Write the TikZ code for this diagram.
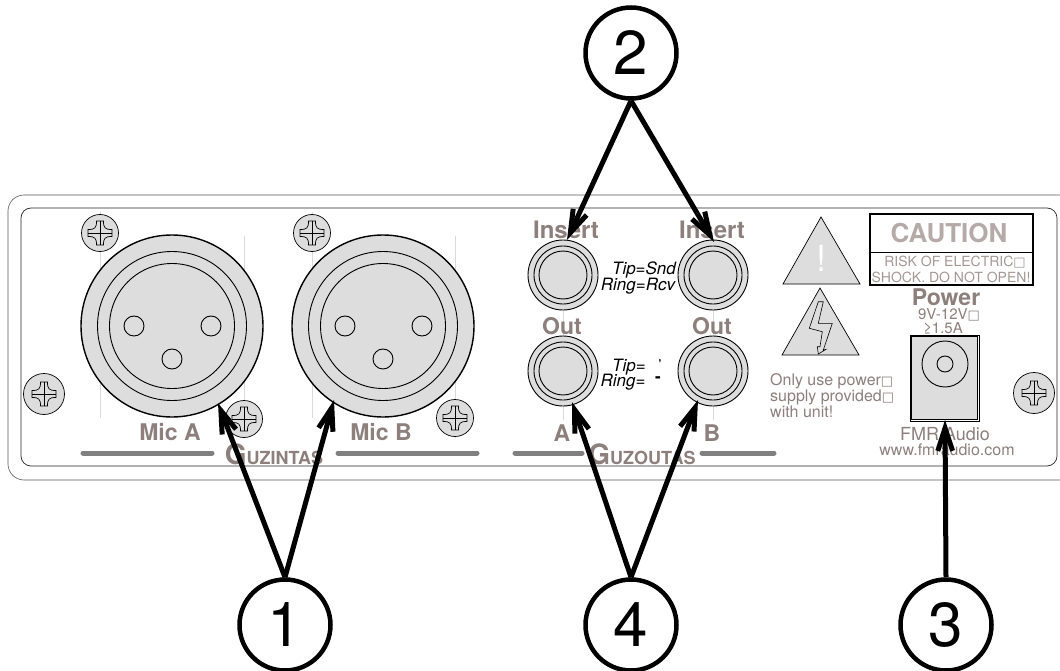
\documentclass[tikz,border=0pt]{standalone}
\usepackage{fontspec}
\setmainfont{TeX Gyre Heros}
\newfontfamily\boxfont{DejaVu Sans}
\usetikzlibrary{arrows.meta}
\definecolor{panel}{HTML}{DDDDDD}
\definecolor{lettering}{HTML}{8C7F7C}
\definecolor{paler}{HTML}{B5AAA8}
\definecolor{fine}{HTML}{A39795}
\definecolor{barline}{HTML}{808080}
\newcommand{\sz}[1]{\fontsize{#1}{#1}\selectfont}
\newcommand{\nochar}{{\boxfont\fontsize{13}{13}\selectfont □}}
\tikzset{
  x=1pt, y=-1pt,
  num/.style = {circle, draw, line width=4.5pt, fill=white, minimum size=91pt, inner sep=0pt, font=\sz{62}},
  ring/.style = {circle, draw, line width=0.9pt, inner sep=0pt},
  body/.style = {ring, fill=panel},
  hole/.style = {ring, minimum size=20pt},
  label/.style = {inner sep=0pt, text=lettering, font=\bfseries\sz{23}},
  small/.style = {inner sep=0pt, text=lettering, font=\sz{16}},
  pale/.style = {inner sep=0pt, text=fine, font=\sz{14}},
  note/.style = {inner sep=0pt, font=\itshape\sz{17}},
  bar/.style = {line width=5pt, line cap=round, color=barline},
  hair/.style = {line width=0.2pt, color=black!15},
  sign/.style = {draw, line width=0.7pt, fill=panel, line join=miter},
  point/.style = {line width=5pt, -{Straight Barb[angle=36:24pt, line width=5pt]}},
  pics/screw/.style = {code = {
    \draw[line width=0.7pt, fill=panel] (0,0) circle (#1);
    \draw[line width=0.7pt] (-12,3.5) .. controls (-5,3.5) and (-3.5,5) .. (-3.5,12) -- (3.5,12)
      .. controls (3.5,5) and (5,3.5) .. (12,3.5) -- (12,-3.5)
      .. controls (5,-3.5) and (3.5,-5) .. (3.5,-12) -- (-3.5,-12)
      .. controls (-3.5,-5) and (-5,-3.5) .. (-12,-3.5) -- cycle;
    \draw[line width=0.6pt] (-12,0) -- (12,0) (0,-12) -- (0,12);
  }}
}
\begin{document}
\begin{tikzpicture}
  \useasboundingbox (0,0) rectangle (1060,671);

  \draw[line width=0.6pt, color=black!65, rounded corners=16pt] (8,195) rectangle (1075,480);
  \draw[line width=0.7pt, color=black!85, rounded corners=10pt] (21,208) rectangle (1057,466);

  \draw[hair] (100,212) -- (100,418) (244,236) -- (244,418) (312,212) -- (312,418) (455,236) -- (455,438);
  \draw[hair] (563,310) -- (563,420) (713,310) -- (713,420);

  \node[body, line width=1.4pt, minimum size=182pt] (micA) at (172,326) {};
  \node[ring, minimum size=149pt] (micAmid) at (micA) {};
  \node[ring, minimum size=125pt] (micAin) at (micA) {};
  \node[hole] (micA1) at (134,326) {};
  \node[hole] (micA2) at (211,326) {};
  \node[hole] (micA3) at (172,359) {};
  \node[body, line width=1.4pt, minimum size=182pt] (micB) at (383,326) {};
  \node[ring, minimum size=149pt] (micBmid) at (micB) {};
  \node[ring, minimum size=125pt] (micBin) at (micB) {};
  \node[hole] (micB1) at (345,326) {};
  \node[hole] (micB2) at (422,326) {};
  \node[hole] (micB3) at (383,359) {};

  \pic at (100,233) {screw=18.5};
  \pic at (312,233) {screw=18.5};
  \pic at (44,394) {screw=20.5};
  \pic at (244,419) {screw=18.5};
  \pic at (455,418) {screw=18.5};
  \pic at (1034,393) {screw=20.5};

  \node[label] (labA) at (170,432) {Mic A};
  \node[label] (labB) at (381,432) {Mic B};
  \draw[bar] (83,453) -- (212,453);
  \draw[bar] (338,453) -- (477,453);
  \node[label] (inputs) at (274,454) {\sz{28}G\sz{18}UZINTAS};

  \node[body, minimum size=70pt] (insA) at (563,275) {};
  \node[ring, minimum size=58pt] (insAmid) at (insA) {};
  \node[ring, minimum size=48pt] (insAin) at (insA) {};
  \node[body, minimum size=70pt] (insB) at (713,275) {};
  \node[ring, minimum size=58pt] (insBmid) at (insB) {};
  \node[ring, minimum size=48pt] (insBin) at (insB) {};
  \node[body, minimum size=70pt] (outA) at (563,371) {};
  \node[ring, minimum size=58pt] (outAmid) at (outA) {};
  \node[ring, minimum size=48pt] (outAin) at (outA) {};
  \node[body, minimum size=70pt] (outB) at (713,371) {};
  \node[ring, minimum size=58pt] (outBmid) at (outB) {};
  \node[ring, minimum size=48pt] (outBin) at (outB) {};

  \node[label, font=\bfseries\sz{24}] (labInsA) at (566,230) {Insert};
  \node[label, font=\bfseries\sz{24}] (labInsB) at (712,230) {Insert};
  \node[label] (labOutA) at (562,326) {Out};
  \node[label] (labOutB) at (712,326) {Out};
  \node[label] (labChA) at (562,433) {A};
  \node[label] (labChB) at (712,433) {B};
  \draw[bar] (515,453) -- (582,453);
  \draw[bar] (702,453) -- (774,453);
  \node[label] (outputs) at (642,454) {\sz{28}G\sz{18}UZOUTAS};

  \node[note] (tipS) at (644,270) {Tip=Snd};
  \node[note] (ringS) at (638,286) {Ring=Rcv};
  \node[note] (tipO) at (629,367) {Tip=};
  \node[note] (ringO) at (623,382) {Ring=};
  \node[inner sep=0pt, font=\bfseries\sz{12}] (tickT) at (660,364) {'};
  \node[inner sep=0pt, font=\bfseries\sz{17}] (tickR) at (658,380) {-};

  \draw[sign] (821,217) -- (783,284) -- (860,284) -- cycle;
  \node[inner sep=0pt, text=white, font=\sz{36}] (bang) at (821,258) {!};
  \draw[sign] (820,288) -- (782,355) -- (859,355) -- cycle;
  \draw[line width=0.6pt, fill=panel] (818.3,301.7) -- (823.3,301.7) -- (818.3,323.3) -- (832.3,323.3) -- (823.3,350)
    -- (825.7,349.5) -- (818.3,354) -- (817.3,346.7) -- (820,346.7) -- (822.3,331.7) -- (809.3,328.3) -- cycle;

  \node[small, align=left, anchor=west] (only) at (770,396)
    {Only use power\nochar\\supply provided\nochar\\with unit!};

  \draw[line width=1.5pt] (870,214) rectangle (1033,285);
  \draw[line width=0.6pt] (870,252) -- (1033,252);
  \node[pale, text=paler, font=\bfseries\sz{26}] (caution) at (949,233) {CAUTION};
  \node[pale] (risk) at (955,262) {RISK OF ELECTRIC\nochar};
  \node[pale] (shock) at (951,277) {SHOCK. DO NOT OPEN!};

  \node[label] (power) at (946,297) {Power};
  \node[small, font=\sz{15}] (volts) at (949,315) {9V-12V\nochar};
  \node[small, font=\sz{15}] (amps) at (943,328) {≥1.5A};

  \draw[line width=0.5pt] (910,335) rectangle (979,421);
  \draw[line width=0.8pt, fill=panel] (911.5,336.5) rectangle (977.5,419.5);
  \node[ring, minimum size=46pt] (barrel) at (945,364) {};
  \node[ring, minimum size=16pt] (pin) at (945,364) {};

  \node[small, font=\sz{18}] (brand) at (945,434) {FMR Audio};
  \node[small] (web) at (947,450) {www.fmraudio.com};

  \node[num] (n2) at (631,53) {2};
  \node[num] (n1) at (285,625) {1};
  \node[num] (n4) at (631,625) {4};
  \node[num] (n3) at (946,625) {3};

  \coordinate (pMicA) at (218,403);
  \coordinate (pMicB) at (334,400);
  \coordinate (pInsA) at (567,240);
  \coordinate (pInsB) at (714,242);
  \coordinate (pOutA) at (572,402);
  \coordinate (pOutB) at (698,400);
  \coordinate (pPow) at (945,420);

  \draw[point] (n1.north) -- (pMicA);
  \draw[point] (n1.north) -- (pMicB);
  \draw[point] (n2.south) -- (pInsA);
  \draw[point] (n2.south) -- (pInsB);
  \draw[point] (n4.north) -- (pOutA);
  \draw[point] (n4.north) -- (pOutB);
  \draw[point] (n3.north) -- (pPow);
\end{tikzpicture}
\end{document}
